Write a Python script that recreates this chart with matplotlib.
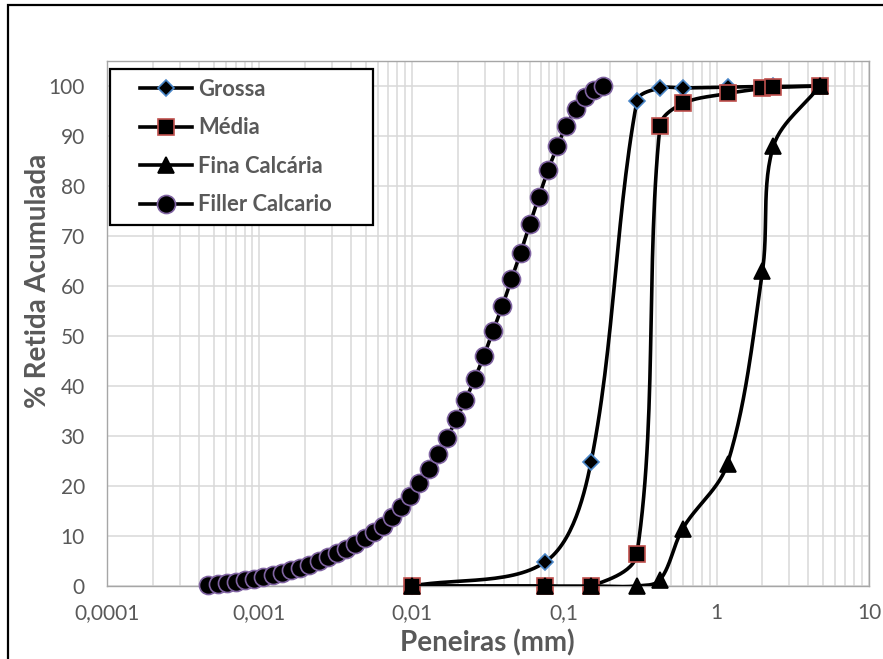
import numpy as np
import matplotlib
matplotlib.use('Agg')
import matplotlib.pyplot as plt
import matplotlib.patches as patches
from matplotlib.legend_handler import HandlerLine2D
from matplotlib.ticker import LogLocator, NullFormatter

plt.rcParams['font.family'] = ['Lato', 'DejaVu Sans']

# sieve data (mm) and % retained
grossa_x = [0.01, 0.075, 0.15, 0.3, 0.425, 0.6, 1.18, 2.36, 4.75]
grossa_y = [0.0, 4.8, 24.8, 97.0, 99.6, 99.6, 99.8, 99.9, 100.0]

media_x = [0.01, 0.075, 0.15, 0.3, 0.425, 0.6, 1.18, 2.0, 2.36, 4.75]
media_y = [0.0, 0.0, 0.0, 6.4, 92.0, 96.5, 98.5, 99.5, 99.7, 100.0]

fina_x = [0.01, 0.075, 0.15, 0.3, 0.425, 0.6, 1.18, 2.0, 2.36, 4.75]
fina_y = [0.0, 0.0, 0.0, 0.0, 1.2, 11.5, 24.5, 63.0, 88.0, 100.0]

filler_x = [0.000463, 0.000532, 0.000611, 0.000702, 0.000806, 0.000926,
            0.00106, 0.00122, 0.00140, 0.00161, 0.00185, 0.00213,
            0.00245, 0.00281, 0.00323, 0.00371, 0.00426, 0.00490,
            0.00563, 0.00646, 0.00742, 0.00852, 0.00979, 0.0112,
            0.0129, 0.0148, 0.0171, 0.0196, 0.0225, 0.0259,
            0.0297, 0.0341, 0.0392, 0.0450, 0.0517, 0.0594,
            0.0682, 0.0784, 0.0901, 0.103, 0.119, 0.137,
            0.157, 0.180]
filler_y = [0.2, 0.4, 0.6, 0.85, 1.15, 1.5,
            1.85, 2.3, 2.7, 3.15, 3.7, 4.3,
            5.0, 5.8, 6.6, 7.5, 8.5, 9.6,
            10.8, 12.1, 13.8, 15.8, 18.0, 20.7,
            23.4, 26.5, 29.7, 33.4, 37.2, 41.5,
            46.0, 51.0, 55.9, 61.3, 66.6, 72.3,
            77.8, 83.2, 87.9, 92.0, 95.3, 97.7,
            99.2, 100.0]

xtick_vals = [0.0001, 0.001, 0.01, 0.1, 1, 10]
xtick_labels = ['0,0001', '0,001', '0,01', '0,1', '1', '10']

GRAY = '#595959'


def smooth(xs, ys, n=30):
    # excel-like smoothed line, control points weighted by segment length
    P = np.column_stack([np.log10(xs) * 30.5, np.asarray(ys, dtype=float)])
    m = len(P)
    t = np.linspace(0, 1, n)[:, None]
    out = []
    for i in range(m - 1):
        p0 = P[i - 1] if i > 0 else P[i]
        p1, p2 = P[i], P[i + 1]
        p3 = P[i + 2] if i + 2 < m else P[i + 1]
        d01 = np.hypot(*(p1 - p0))
        d12 = np.hypot(*(p2 - p1))
        d23 = np.hypot(*(p3 - p2))
        c1 = p1 + (p2 - p0) * (d12 / (d01 + d12) / 3 if d01 + d12 > 0 else 0)
        c2 = p2 - (p3 - p1) * (d12 / (d12 + d23) / 3 if d12 + d23 > 0 else 0)
        seg = ((1 - t) ** 3 * p1 + 3 * (1 - t) ** 2 * t * c1
               + 3 * (1 - t) * t ** 2 * c2 + t ** 3 * p2)
        out.append(seg)
    out = np.vstack(out)
    return 10 ** (out[:, 0] / 30.5), out[:, 1]


class ShiftedHandler(HandlerLine2D):
    def create_artists(self, legend, orig_handle, xdescent, ydescent, width,
                       height, fontsize, trans):
        shift = 0.28 * width
        return super().create_artists(legend, orig_handle, xdescent - shift,
                                      ydescent, width - shift, height,
                                      fontsize, trans)


fig = plt.figure(figsize=(8.83, 6.59), dpi=100)
ax = fig.add_axes([107 / 883, 1 - 586 / 659, 762 / 883, 525 / 659])

# outer chart border
fig.patches.append(patches.Rectangle((8 / 883, -0.05), 1.2, 0.05 + 1 - 5 / 659,
                                     transform=fig.transFigure, fill=False,
                                     edgecolor='black', linewidth=1.6))

series = [
    ('Grossa', grossa_x, grossa_y, dict(marker='D', ms=8, mfc='black', mec='#4a86c8')),
    ('Média', media_x, media_y, dict(marker='s', ms=11, mfc='black', mec='#c0504d')),
    ('Fina Calcária', fina_x, fina_y, dict(marker='^', ms=11, mfc='black', mec='black')),
    ('Filler Calcario', filler_x, filler_y, dict(marker='o', ms=13, mfc='black', mec='#8064a2')),
]

handles = []
for k, (name, xs, ys, mk) in enumerate(series):
    sx, sy = smooth(xs, ys)
    ax.plot(sx, sy, color='black', lw=2.6, zorder=3 + 2 * k, solid_capstyle='round')
    ax.plot(xs, ys, ls='none', mew=1.2, zorder=4 + 2 * k, clip_on=False, **mk)
    h, = ax.plot([], [], color='black', lw=2.6, mew=1.2, **mk)
    handles.append(h)

ax.set_xscale('log')
ax.set_xlim(1e-4, 10)
ax.set_ylim(0, 105)
ax.set_yticks(range(0, 101, 10))
ax.set_xticks(xtick_vals)
ax.set_xticklabels(xtick_labels)
ax.xaxis.set_minor_locator(LogLocator(base=10, subs=np.arange(2, 10), numticks=50))
ax.xaxis.set_minor_formatter(NullFormatter())
ax.tick_params(which='both', length=0, labelsize=15, labelcolor=GRAY)
ax.tick_params(axis='y', pad=16)
ax.tick_params(axis='x', pad=12)

ax.grid(True, which='major', color='#d9d9d9', lw=1.1, zorder=0)
ax.grid(True, which='minor', axis='x', color='#d9d9d9', lw=1.1, zorder=0)
ax.set_axisbelow(True)
for s in ax.spines.values():
    s.set_color('#a6a6a6')
    s.set_linewidth(1.0)

ax.set_ylabel('% Retida Acumulada', fontsize=20, fontweight='bold', color=GRAY)
ax.yaxis.set_label_coords(-0.074, 0.581)
ax.set_xlabel('Peneiras (mm)', fontsize=20, fontweight='bold', color=GRAY)
ax.xaxis.set_label_coords(0.499, -0.082)

leg = ax.legend(handles, [s[0] for s in series], loc='upper left',
                bbox_to_anchor=(0.004, 0.5, 0.345, 0.485), mode='expand',
                borderaxespad=0,
                fancybox=False, framealpha=1, edgecolor='black',
                handlelength=3.3, handletextpad=0.25, labelspacing=0.8,
                borderpad=0.45, fontsize=15.8,
                handler_map={h: ShiftedHandler() for h in handles})
leg.get_frame().set_linewidth(1.6)
for t in leg.get_texts():
    t.set_color(GRAY)
    t.set_fontweight('bold')
leg.set_zorder(20)

fig.savefig('out.png', dpi=100)
